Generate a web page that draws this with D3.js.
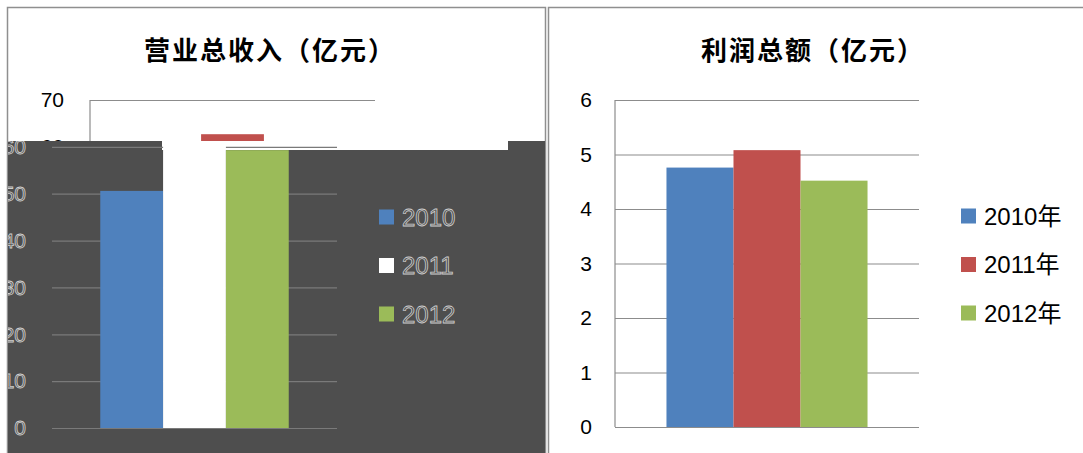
<!DOCTYPE html>
<html>
<head>
<meta charset="utf-8">
<script src="https://cdn.jsdelivr.net/npm/d3@7"></script>
<style>
  body { margin: 0; background: #fff; }
  svg { display: block; }
  text { font-family: "Liberation Sans", "Noto Sans CJK SC", sans-serif; }
  .title { font-family: "Noto Sans CJK SC", sans-serif; font-weight: bold; }
</style>
</head>
<body>
<svg id="chart" width="1083" height="453"></svg>
<script>
// data
let years = ["2010年", "2011年", "2012年"];
let revenue = [50.6, 62.7, 59.3];      // 营业总收入（亿元）
let profit = [4.76, 5.08, 4.52];       // 利润总额（亿元）
let revenueTicks = [0, 10, 20, 30, 40, 50, 60, 70];
let profitTicks = [0, 1, 2, 3, 4, 5, 6];
let colors = ["#4F81BD", "#C0504D", "#9BBB59"];

let svg = d3.select("#chart");
let defs = svg.append("defs");

//draws one bar chart (axis, gridlines, bars, legend) into g
function drawChart(g, o) {
  let xScale = d3.scaleBand()
    .domain(["all"])
    .range([o.left, o.right])
    .paddingOuter(0.256);
  let xSub = d3.scaleBand()
    .domain(years)
    .range([0, xScale.bandwidth()]);
  let yScale = d3.scaleLinear()
    .domain([0, o.max])
    .range([o.bottom, o.top]);

  // gridlines + tick labels
  let yAxis = d3.axisLeft(yScale)
    .tickValues(o.ticks)
    .tickSize(-(o.right - o.left))
    .tickPadding(o.pad)
    .tickFormat(d3.format("d"));
  let ax = g.append("g")
    .attr("transform", "translate(" + o.left + ",0)")
    .call(yAxis);
  ax.select(".domain").remove();
  ax.selectAll(".tick line").attr("stroke", o.gridColor).attr("stroke-width", 1.2);
  ax.selectAll(".tick text")
    .attr("font-size", 21)
    .attr("font-family", "Liberation Sans")
    .attr("fill", o.textFill)
    .attr("stroke", o.textStroke)
    .attr("stroke-width", o.textStroke == "none" ? 0 : 0.8);
  if (o.axisLine) {
    g.append("line")
      .attr("x1", o.left).attr("x2", o.left)
      .attr("y1", yScale(o.max)).attr("y2", o.bottom)
      .attr("stroke", o.gridColor).attr("stroke-width", 1.2);
  }

  // bars
  g.append("g").selectAll("rect")
    .data(o.values)
    .enter().append("rect")
    .attr("x", (d, i) => xScale("all") + xSub(years[i]))
    .attr("width", xSub.bandwidth())
    .attr("y", d => yScale(d))
    .attr("height", d => o.bottom - yScale(d))
    .attr("fill", (d, i) => o.barColors[i]);

  // legend
  if (!o.legend) return;
  let leg = g.append("g").selectAll("g")
    .data(years)
    .enter().append("g")
    .attr("transform", (d, i) => "translate(" + (o.right + 42) + "," + (o.legendY + i * 48.5) + ")");
  leg.append("rect")
    .attr("x", 0).attr("y", -7.5)
    .attr("width", 15).attr("height", 15)
    .attr("fill", (d, i) => o.barColors[i]);
  leg.append("text")
    .attr("x", 23).attr("y", 0)
    .attr("dy", "0.36em")
    .attr("font-size", 24)
    .attr("fill", o.textFill)
    .attr("stroke", o.textStroke)
    .attr("stroke-width", o.textStroke == "none" ? 0 : 0.8)
    .text(d => o.legendText(d));
}

// ---------- left chart: 营业总收入 ----------
defs.append("clipPath").attr("id", "clipTop")
  .append("rect").attr("x", 0).attr("y", 0).attr("width", 546).attr("height", 141);
defs.append("clipPath").attr("id", "clipDark")
  .append("rect").attr("x", 8).attr("y", 141).attr("width", 537).attr("height", 312);

svg.append("rect")
  .attr("x", 7.5).attr("y", 7.5).attr("width", 538).attr("height", 460)
  .attr("fill", "#fff").attr("stroke", "#8f8f8f").attr("stroke-width", 1.5);

svg.append("text").attr("class", "title")
  .attr("x", 270).attr("y", 48)
  .attr("text-anchor", "middle").attr("dominant-baseline", "central")
  .attr("font-size", 26).attr("letter-spacing", 2)
  .text("营业总收入（亿元）");

// upper part (only 70 / 60 region shows above the dark panel)
let leftTop = svg.append("g").attr("clip-path", "url(#clipTop)");
drawChart(leftTop, {
  left: 90, right: 375, top: 100, bottom: 428, max: 70,
  ticks: revenueTicks.filter(d => d >= 60), values: revenue, barColors: colors,
  pad: 26, gridColor: "#8c8c8c", textFill: "#000", textStroke: "none",
  axisLine: true, legend: false
});

// lower part of the left chart as it shows in the picture (dark panel)
let leftDark = svg.append("g").attr("clip-path", "url(#clipDark)");
leftDark.append("rect")
  .attr("x", 8).attr("y", 141).attr("width", 537).attr("height", 312)
  .attr("fill", "#4e4e4e");
leftDark.append("rect")
  .attr("x", 162).attr("y", 141).attr("width", 346).attr("height", 9)
  .attr("fill", "#fff");
drawChart(leftDark, {
  left: 52, right: 337, top: 100, bottom: 428, max: 70,
  ticks: revenueTicks, values: revenue, barColors: [colors[0], "#ffffff", colors[2]],
  pad: 26, gridColor: "#7a7a7a", textFill: "none", textStroke: "#cfcfcf",
  axisLine: false, legend: true, legendY: 217, legendText: d => d.replace("年", "")
});

// ---------- right chart: 利润总额 ----------
svg.append("rect")
  .attr("x", 548.5).attr("y", 7.5).attr("width", 540).attr("height", 460)
  .attr("fill", "#fff").attr("stroke", "#8f8f8f").attr("stroke-width", 1.5);

svg.append("text").attr("class", "title")
  .attr("x", 813).attr("y", 48)
  .attr("text-anchor", "middle").attr("dominant-baseline", "central")
  .attr("font-size", 26).attr("letter-spacing", 2)
  .text("利润总额（亿元）");

drawChart(svg.append("g"), {
  left: 615, right: 919, top: 100, bottom: 427, max: 6,
  ticks: profitTicks, values: profit, barColors: colors,
  pad: 23, gridColor: "#8c8c8c", textFill: "#000", textStroke: "none",
  axisLine: true, legend: true, legendY: 216, legendText: d => d
});
</script>
</body>
</html>
